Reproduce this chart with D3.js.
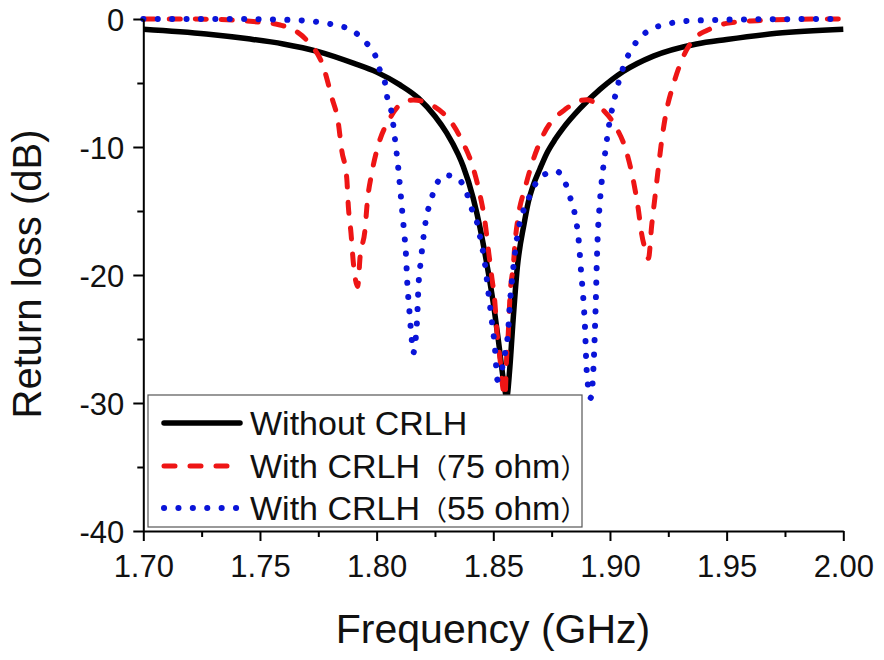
<!DOCTYPE html>
<html>
<head>
<meta charset="utf-8">
<script src="https://cdn.jsdelivr.net/npm/d3@7"></script>
<style>
  html, body { margin: 0; padding: 0; background: #fff; }
  svg { display: block; font-family: "Liberation Sans", Arial, sans-serif; }
</style>
</head>
<body>
<svg id="chart" width="884" height="660"></svg>
<script>
// ---------------- data ----------------
const xTickValues = [1.70, 1.75, 1.80, 1.85, 1.90, 1.95, 2.00];
const xMinorTicks = [1.725, 1.775, 1.825, 1.875, 1.925, 1.975];
const yTickValues = [0, -10, -20, -30, -40];
const yMinorTicks = [-5, -15, -25, -35];

const seriesNames = ["Without CRLH", "With CRLH", "With CRLH"];
const seriesParen = [null, "75 ohm", "55 ohm"];

const freqWithout = [1.700, 1.727, 1.745, 1.760, 1.775, 1.790, 1.800, 1.810, 1.818, 1.825, 1.830, 1.835, 1.8371, 1.8414, 1.8443, 1.8471, 1.850, 1.8521, 1.855, 1.8557, 1.8571, 1.8583, 1.8603, 1.8632, 1.865, 1.8671, 1.870, 1.8729, 1.8765, 1.880, 1.8871, 1.8957, 1.9057, 1.9186, 1.9371, 1.950, 1.9714, 2.000];
const lossWithout = [-0.80, -1.17, -1.55, -1.95, -2.55, -3.45, -4.15, -5.15, -6.2, -7.6, -8.9, -10.6, -11.5, -14.0, -16.3, -19.0, -22.2, -25.0, -29.0, -29.6, -27.2, -24.0, -19.4, -16.0, -14.3, -13.0, -11.7, -10.5, -9.4, -8.5, -7.0, -5.5, -4.1, -2.9, -1.95, -1.6, -1.12, -0.80];

const freq75 = [1.700, 1.720, 1.740, 1.7471, 1.7586, 1.765, 1.7707, 1.7771, 1.7807, 1.7836, 1.785, 1.7872, 1.7879, 1.789, 1.790, 1.7919, 1.7929, 1.795, 1.796, 1.7979, 1.8005, 1.8057, 1.810, 1.8157, 1.8286, 1.8364, 1.8414, 1.8443, 1.8464, 1.8479, 1.8493, 1.8507, 1.8515, 1.8529, 1.854, 1.855, 1.8557, 1.8564, 1.8572, 1.8586, 1.8593, 1.8607, 1.8636, 1.8671, 1.8714, 1.8814, 1.890, 1.892, 1.897, 1.9021, 1.9071, 1.910, 1.9121, 1.9136, 1.9157, 1.9165, 1.9179, 1.9193, 1.9207, 1.9222, 1.924, 1.9271, 1.9314, 1.9379, 1.9415, 1.950, 1.963, 1.980, 2.000];
const loss75 = [0, 0, -0.10, -0.20, -0.47, -0.90, -1.80, -3.70, -6.07, -8.15, -10.2, -12.45, -14.7, -16.7, -19.0, -20.9, -18.6, -16.5, -14.3, -12.05, -9.98, -7.76, -6.7, -6.33, -7.37, -9.45, -11.66, -13.75, -15.8, -18.05, -20.1, -22.2, -24.3, -26.6, -28.7, -29.5, -26.5, -24.6, -21.5, -19.2, -17.5, -15.4, -13.2, -11.0, -9.06, -6.98, -6.3, -6.4, -7.1, -8.3, -10.4, -12.6, -14.8, -16.8, -18.3, -18.7, -16.1, -13.9, -11.7, -9.45, -7.37, -5.16, -2.95, -1.25, -0.9, -0.34, -0.13, -0.02, 0];

const freq55 = [1.700, 1.740, 1.7643, 1.7771, 1.7829, 1.7893, 1.795, 1.7993, 1.8014, 1.8036, 1.8046, 1.8064, 1.8079, 1.8093, 1.8107, 1.8117, 1.8126, 1.8131, 1.814, 1.815, 1.8157, 1.8164, 1.8174, 1.8179, 1.819, 1.8204, 1.8214, 1.8229, 1.825, 1.8293, 1.835, 1.8386, 1.8407, 1.8429, 1.8443, 1.8464, 1.8479, 1.8493, 1.8507, 1.8518, 1.8529, 1.8546, 1.8564, 1.8572, 1.8583, 1.8597, 1.8607, 1.8621, 1.8643, 1.8671, 1.8714, 1.8771, 1.8814, 1.8832, 1.885, 1.8867, 1.8876, 1.8886, 1.8893, 1.890, 1.8917, 1.8926, 1.8932, 1.8936, 1.894, 1.8943, 1.8947, 1.8954, 1.8964, 1.8979, 1.8996, 1.9021, 1.9036, 1.9054, 1.9079, 1.9117, 1.9176, 1.924, 1.930, 1.9364, 1.960, 2.000];
const loss55 = [0, 0, -0.08, -0.29, -0.50, -0.86, -1.77, -2.8, -4.0, -5.0, -6.2, -7.3, -9.45, -11.7, -14.5, -16.5, -18.5, -20.5, -22.7, -24.95, -26.1, -25.5, -23.25, -21.0, -18.8, -16.6, -15.4, -14.4, -13.2, -12.2, -12.5, -13.6, -14.8, -15.8, -17.0, -19.1, -21.4, -23.5, -25.7, -28.2, -27.9, -26.5, -24.3, -22.0, -19.9, -17.7, -16.5, -15.4, -14.4, -13.2, -12.2, -11.9, -13.05, -14.1, -15.3, -17.5, -19.7, -21.9, -24.1, -27.4, -29.6, -28.3, -26.1, -24.0, -21.6, -19.4, -17.2, -15.0, -12.8, -10.5, -8.3, -6.12, -5.0, -3.93, -2.8, -1.7, -0.8, -0.42, -0.2, -0.12, -0.03, 0];

// ---------------- chart ----------------
const svg = d3.select("#chart");
const x = d3.scaleLinear().domain([1.70, 2.00]).range([143.3, 843.3]);
const y = d3.scaleLinear().domain([0, -40]).range([19, 531]);

const fontMain = '"Liberation Sans", Arial, sans-serif';

const line = d3.line().x(d => x(d[0])).y(d => y(d[1])).curve(d3.curveMonotoneX);
const zip = (a, b) => a.map((v, i) => [v, b[i]]);

const styles = [
  { color: "#000000", width: 5.5, dash: null, cap: "round" },
  { color: "#ee1515", width: 5, dash: "11,15", cap: "round" },
  { color: "#0a14d8", width: 6, dash: "0.1,14.3", cap: "round" }
];
const data = [zip(freqWithout, lossWithout), zip(freq75, loss75), zip(freq55, loss55)];

const gLines = svg.append("g");
data.forEach((d, i) => {
  const s = styles[i];
  gLines.append("path")
    .datum(d)
    .attr("d", line)
    .attr("fill", "none")
    .attr("stroke", s.color)
    .attr("stroke-width", s.width)
    .attr("stroke-linecap", i === 0 ? "butt" : s.cap)
    .attr("stroke-linejoin", "round")
    .attr("stroke-dasharray", s.dash);
});

// axes
const xAxis = svg.append("g").attr("transform", `translate(0,${y(-40)})`)
  .call(d3.axisBottom(x).tickValues(xTickValues).tickFormat(d3.format(".2f")).tickSize(10).tickPadding(14).tickSizeOuter(0));
const xMinor = svg.append("g").attr("transform", `translate(0,${y(-40)})`)
  .call(d3.axisBottom(x).tickValues(xMinorTicks).tickFormat("").tickSize(6).tickSizeOuter(0));
const yAxis = svg.append("g").attr("transform", `translate(${x(1.70)},0)`)
  .call(d3.axisLeft(y).tickValues(yTickValues).tickFormat(d => String(d)).tickSize(10).tickPadding(9).tickSizeOuter(0));
const yMinor = svg.append("g").attr("transform", `translate(${x(1.70)},0)`)
  .call(d3.axisLeft(y).tickValues(yMinorTicks).tickFormat("").tickSize(6).tickSizeOuter(0));

[xAxis, xMinor, yAxis, yMinor].forEach(g => {
  g.selectAll("path.domain").attr("stroke", "#000").attr("stroke-width", 2);
  g.selectAll(".tick line").attr("stroke", "#000").attr("stroke-width", 2);
  g.selectAll("text").attr("font-family", fontMain).attr("font-size", 31).attr("fill", "#111");
});
xMinor.select("path.domain").remove();
yMinor.select("path.domain").remove();
yAxis.selectAll("text").attr("dy", "0.36em");

// axis titles
svg.append("text")
  .attr("x", 493).attr("y", 643)
  .attr("text-anchor", "middle")
  .attr("font-family", fontMain).attr("font-size", 41).attr("fill", "#111")
  .text("Frequency (GHz)");
svg.append("text")
  .attr("transform", "translate(41,274) rotate(-90)")
  .attr("text-anchor", "middle")
  .attr("font-family", fontMain).attr("font-size", 40).attr("fill", "#111")
  .text("Return loss (dB)");

// legend
const lg = svg.append("g");
lg.append("rect")
  .attr("x", 148).attr("y", 395).attr("width", 434).attr("height", 132)
  .attr("fill", "#fff").attr("stroke", "#555").attr("stroke-width", 1.2);
const rowY = [423, 466, 508];
seriesNames.forEach((name, i) => {
  const s = styles[i];
  lg.append("line")
    .attr("x1", 164).attr("x2", 240)
    .attr("y1", rowY[i]).attr("y2", rowY[i])
    .attr("stroke", s.color).attr("stroke-width", s.width)
    .attr("stroke-linecap", s.cap)
    .attr("stroke-dasharray", s.dash);
  const t = lg.append("text")
    .attr("x", 250).attr("y", rowY[i] + 12)
    .attr("font-family", fontMain).attr("font-size", 34).attr("fill", "#111");
  t.append("tspan").text(name);
  if (seriesParen[i]) {
    t.append("tspan").attr("font-family", '"Noto Sans CJK SC", ' + fontMain).attr("font-size", 27).text("（");
    t.append("tspan").text(seriesParen[i]);
    t.append("tspan").attr("font-family", '"Noto Sans CJK SC", ' + fontMain).attr("font-size", 27).text("）");
  }
});
</script>
</body>
</html>
